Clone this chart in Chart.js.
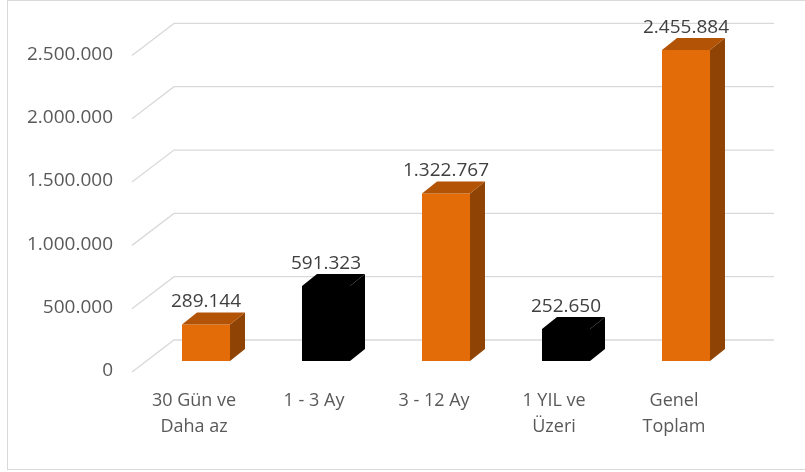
<!DOCTYPE html>
<html>
<head>
<meta charset="utf-8">
<script src="https://cdn.jsdelivr.net/npm/chart.js@4"></script>
<style>
  html, body { margin: 0; padding: 0; background: #ffffff; }
  #wrap { position: relative; width: 805px; height: 472px; }
</style>
</head>
<body>
<div id="wrap"><canvas id="barChart" width="805" height="472"></canvas></div>
<script>
const categories = [['30 Gün ve', 'Daha az'], '1 - 3 Ay', '3 - 12 Ay', ['1 YIL ve', 'Üzeri'], ['Genel', 'Toplam']];
const values = [289144, 591323, 1322767, 252650, 2455884];
const frontColors = ['#e36c09', '#000000', '#e36c09', '#000000', '#e36c09'];
const topColors = ['#b25306', '#000000', '#b25306', '#000000', '#b25306'];
const sideColors = ['#8f4304', '#000000', '#8f4304', '#000000', '#8f4304'];
const yTicks = [0, 500000, 1000000, 1500000, 2000000, 2500000];

// depth offsets of the fake 3D view
const BAR_DX = 15, BAR_DY = -12;   // bar front face -> bar back face
const BACK_DX = 28, BACK_DY = -21; // bar plane -> back wall
const FRONT_DX = -14, FRONT_DY = 11; // bar plane -> front floor edge

const fmt = v => v.toLocaleString('de-DE');

const frame3d = {
    id: 'frame3d',
    beforeDraw(chart) {
        const c = chart.ctx;
        c.save();
        c.strokeStyle = '#d9d9d9';
        c.lineWidth = 1;
        c.strokeRect(7.5, 0.5, 820, 469);
        c.restore();
    },
    beforeDatasetsDraw(chart) {
        const c = chart.ctx, area = chart.chartArea, y = chart.scales.y;
        c.save();
        c.strokeStyle = '#d9d9d9';
        c.lineWidth = 1.3;
        yTicks.forEach(v => {
            const py = y.getPixelForValue(v);
            c.beginPath();
            c.moveTo(area.left + FRONT_DX, py + FRONT_DY);
            c.lineTo(area.left + BACK_DX, py + BACK_DY);
            c.lineTo(area.right + BACK_DX, py + BACK_DY);
            c.stroke();
        });
        c.restore();
    },
    afterDatasetsDraw(chart) {
        const c = chart.ctx;
        const meta = chart.getDatasetMeta(0);
        c.save();
        meta.data.forEach((bar, i) => {
            const l = bar.x - bar.width / 2, r = bar.x + bar.width / 2;
            const t = bar.y, b = bar.base;
            // side face
            c.fillStyle = sideColors[i];
            c.beginPath();
            c.moveTo(r, t);
            c.lineTo(r + BAR_DX, t + BAR_DY);
            c.lineTo(r + BAR_DX, b + BAR_DY);
            c.lineTo(r, b);
            c.closePath();
            c.fill();
            // top face
            c.fillStyle = topColors[i];
            c.beginPath();
            c.moveTo(l, t);
            c.lineTo(l + BAR_DX, t + BAR_DY);
            c.lineTo(r + BAR_DX, t + BAR_DY);
            c.lineTo(r, t);
            c.closePath();
            c.fill();
            // value label
            c.fillStyle = '#404040';
            c.font = '500 19px "Open Sans"';
            c.textAlign = 'center';
            c.textBaseline = 'bottom';
            c.fillText(fmt(values[i]), bar.x, t + BAR_DY - 1);
        });
        c.restore();
    }
};

new Chart(document.getElementById('barChart'), {
    type: 'bar',
    data: {
        labels: categories,
        datasets: [{
            data: values,
            backgroundColor: frontColors,
            borderWidth: 0,
            barPercentage: 0.4,
            categoryPercentage: 1.0
        }]
    },
    plugins: [frame3d],
    options: {
        responsive: false,
        animation: false,
        layout: { padding: { top: 38, right: 59, left: 0, bottom: 0 } },
        plugins: {
            legend: { display: false },
            tooltip: { enabled: false }
        },
        scales: {
            x: {
                grid: { display: false, drawTicks: false },
                border: { display: false },
                ticks: {
                    color: '#595959',
                    font: { family: 'Open Sans', size: 18, weight: '500', lineHeight: 1.45 },
                    padding: 27,
                    labelOffset: -12,
                    maxRotation: 0,
                    autoSkip: false
                },
                afterFit: s => { s.height = 111; }
            },
            y: {
                min: 0,
                max: 2500000,
                grid: { display: false, drawTicks: false },
                border: { display: false },
                afterBuildTicks: s => { s.ticks = yTicks.map(v => ({ value: v })); },
                ticks: {
                    color: '#595959',
                    font: { family: 'Open Sans', size: 19, weight: '500' },
                    padding: 33,
                    labelOffset: 10,
                    callback: v => fmt(v)
                },
                afterFit: s => { s.width = 146; }
            }
        }
    }
});
</script>
</body>
</html>
